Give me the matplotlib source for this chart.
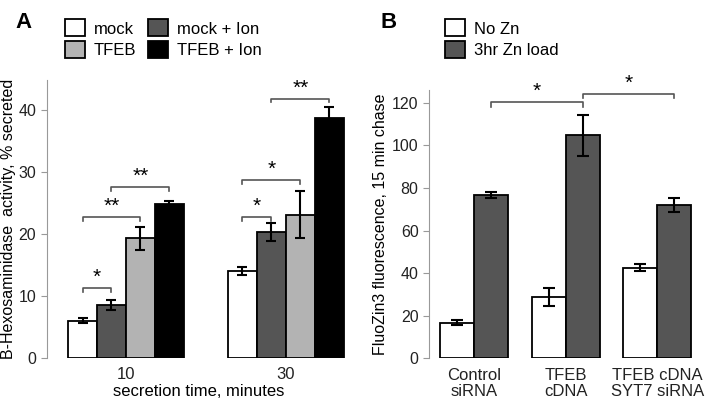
import numpy as np
import matplotlib.pyplot as plt
from matplotlib.patches import Patch

plt.rcParams['font.family'] = ['Liberation Sans', 'DejaVu Sans']

# Panel A data
times = ['10', '30']
a_labels = ['mock', 'mock + Ion', 'TFEB', 'TFEB + Ion']
a_colors = ['white', '#555555', '#b3b3b3', 'black']
a_vals = [[6.0, 14.0], [8.5, 20.3], [19.3, 23.1], [24.9, 38.7]]
a_errs = [[0.4, 0.7], [0.8, 1.5], [1.9, 3.8], [0.5, 1.9]]
# brackets: (group, bar from, bar to, height, label)
a_sig = [(0, 0, 1, 11.3, '*'), (0, 0, 2, 22.7, '**'), (0, 1, 3, 27.6, '**'),
         (1, 0, 1, 22.7, '*'), (1, 0, 2, 28.7, '*'), (1, 1, 3, 41.9, '**')]

# Panel B data
b_groups = ['Control\nsiRNA', 'TFEB\ncDNA', 'TFEB cDNA\nSYT7 siRNA']
b_labels = ['No Zn', '3hr Zn load']
b_colors = ['white', '#555555']
b_vals = [[16.7, 28.7, 42.6], [76.8, 104.7, 71.8]]
b_errs = [[1.2, 4.3, 1.7], [1.3, 9.6, 3.3]]
b_sig = [(0, 1, 120.2, '*'), (1, 2, 124.2, '*')]

fig = plt.figure(figsize=(7.13, 4.04), dpi=100)


def style(ax):
    for s in ['top', 'right', 'bottom']:
        ax.spines[s].set_visible(False)
    ax.spines['left'].set_color('#999999')
    ax.tick_params(axis='y', colors='#999999', labelcolor='#222222', length=4, labelsize=11.5)
    ax.tick_params(axis='x', length=0, labelsize=12, labelcolor='#222222', pad=7)


# ---- Panel A ----
axA = fig.add_axes([0.0655, 0.1146, 0.425, 0.687])
w = 0.18125
x = np.arange(len(times))
for i in range(4):
    pos = x + (i - 1.5) * w
    axA.bar(pos, a_vals[i], w, color=a_colors[i], edgecolor='black', linewidth=1.3,
            yerr=a_errs[i], error_kw=dict(ecolor='black', elinewidth=1.5, capsize=3.5, capthick=1.5))
for g, b1, b2, h, lab in a_sig:
    x1 = g + (b1 - 1.5) * w
    x2 = g + (b2 - 1.5) * w
    axA.plot([x1, x1, x2, x2], [h - 0.6, h, h, h - 0.6], color='#555555', lw=1.2, clip_on=False)
    axA.text((x1 + x2) / 2, h + 0.2, lab, ha='center', va='bottom', fontsize=15)
axA.set_xlim(-0.496, 1.40)
axA.set_ylim(0, 44.9)
axA.set_yticks([0, 10, 20, 30, 40])
axA.set_xticks(x)
axA.set_xticklabels(times)
axA.set_xlabel('secretion time, minutes', fontsize=12, labelpad=1)
axA.set_ylabel('B-Hexosaminidase  activity, % secreted', fontsize=11.5, labelpad=2)
style(axA)

handlesA = [Patch(facecolor=a_colors[i], edgecolor='black', linewidth=1.3) for i in [0, 2, 1, 3]]
labelsA = [a_labels[i] for i in [0, 2, 1, 3]]
fig.legend(handlesA, labelsA, loc='upper left', bbox_to_anchor=(0.091, 0.952), ncol=2,
           frameon=False, fontsize=12, handlelength=1.2, handleheight=1.2,
           handletextpad=0.55, columnspacing=0.7, labelspacing=0.28, borderpad=0, borderaxespad=0)
fig.text(0.022, 0.97, 'A', fontsize=16, fontweight='bold', va='top')

# ---- Panel B ----
axB = fig.add_axes([0.6017, 0.1131, 0.3983, 0.6641])
wb = 0.371
xb = np.arange(len(b_groups))
for i in range(2):
    pos = xb + (i - 0.5) * wb
    axB.bar(pos, b_vals[i], wb, color=b_colors[i], edgecolor='black', linewidth=1.3,
            yerr=b_errs[i], error_kw=dict(ecolor='black', elinewidth=1.5, capsize=4, capthick=1.5))
for g1, g2, h, lab in b_sig:
    x1 = g1 + 0.5 * wb
    x2 = g2 + 0.5 * wb
    axB.plot([x1, x1, x2, x2], [h - 2, h, h, h - 2], color='#555555', lw=1.2, clip_on=False)
    axB.text((x1 + x2) / 2, h + 0.5, lab, ha='center', va='bottom', fontsize=15)
axB.set_xlim(-0.491, 2.606)
axB.set_ylim(0, 126)
axB.set_yticks([0, 20, 40, 60, 80, 100, 120])
axB.set_xticks(xb)
axB.set_xticklabels(b_groups, linespacing=1.1)
axB.set_ylabel('FluoZin3 fluorescence, 15 min chase', fontsize=11.5, labelpad=3)
style(axB)

handlesB = [Patch(facecolor=c, edgecolor='black', linewidth=1.3) for c in b_colors]
fig.legend(handlesB, b_labels, loc='upper left', bbox_to_anchor=(0.624, 0.952), ncol=1,
           frameon=False, fontsize=12, handlelength=1.2, handleheight=1.2,
           handletextpad=0.55, labelspacing=0.28, borderpad=0, borderaxespad=0)
fig.text(0.533, 0.97, 'B', fontsize=16, fontweight='bold', va='top')

fig.savefig('out.png', dpi=100)
